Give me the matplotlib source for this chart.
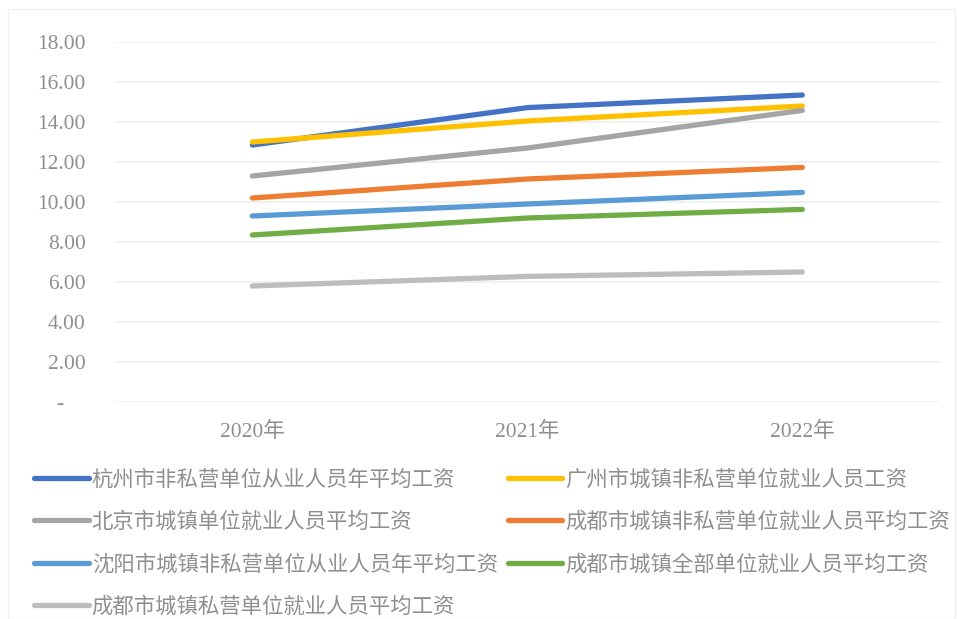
import matplotlib.pyplot as plt
import numpy as np

plt.rcParams['font.family'] = ['Noto Sans CJK SC', 'DejaVu Sans']

years = ['2020年', '2021年', '2022年']
series_names = ['杭州市非私营单位从业人员年平均工资',
                '广州市城镇非私营单位就业人员工资',
                '北京市城镇单位就业人员平均工资',
                '成都市城镇非私营单位就业人员平均工资',
                '沈阳市城镇非私营单位从业人员年平均工资',
                '成都市城镇全部单位就业人员平均工资',
                '成都市城镇私营单位就业人员平均工资']
hangzhou = [12.85, 14.72, 15.35]
guangzhou = [13.0, 14.05, 14.8]
beijing = [11.3, 12.7, 14.58]
chengdu_nonpriv = [10.2, 11.15, 11.73]
shenyang = [9.3, 9.9, 10.48]
chengdu_all = [8.35, 9.2, 9.63]
chengdu_priv = [5.8, 6.28, 6.5]
yticks = [0, 2, 4, 6, 8, 10, 12, 14, 16, 18]
ytick_labels = ['-    ', '2.00', '4.00', '6.00', '8.00', '10.00', '12.00', '14.00', '16.00', '18.00']

values = [hangzhou, guangzhou, beijing, chengdu_nonpriv, shenyang, chengdu_all, chengdu_priv]
colors = ['#4472C4', '#FFC000', '#A5A5A5', '#ED7D31', '#5B9BD5', '#70AD47', '#BDBDBD']
txt = '#8f8f8f'

fig = plt.figure(figsize=(9.57, 6.19), dpi=100)
ax = fig.add_axes([0.120, 0.3506, 0.862, 0.5815])

x = np.arange(len(years))
lines = []
for v, c, name in zip(values, colors, series_names):
    ln, = ax.plot(x, v, color=c, lw=3.8, solid_capstyle='round', label=name)
    lines.append(ln)

ax.set_xlim(-0.5, 2.5)
ax.set_ylim(0, 18)
ax.set_yticks(yticks)
ax.set_yticklabels(ytick_labels, family=['Liberation Serif'], fontsize=15.5, color=txt)
ax.set_xticks(x)
ax.set_xticklabels(years, fontsize=15.5, color=txt,
                   family=['Liberation Serif', 'Noto Sans CJK SC'])
ax.tick_params(axis='y', length=0, pad=21)
ax.tick_params(axis='x', length=0, pad=14)
ax.grid(axis='y', color='#efefef', lw=1.2)
ax.set_axisbelow(True)
for s in ax.spines.values():
    s.set_visible(False)

# matplotlib fills legend columns first, so reorder to read row by row
order = [0, 2, 4, 6, 1, 3, 5]
fig.legend([lines[i] for i in order], [series_names[i] for i in order],
           ncol=2, loc='upper left', bbox_to_anchor=(0.0355, 0.243),
           frameon=False, fontsize=15.4, handlelength=2.55, handletextpad=0.15,
           columnspacing=0.47, labelspacing=0.95, labelcolor=txt,
           borderaxespad=0, borderpad=0)

fig.patches.append(plt.Rectangle((0.008, 0.0), 0.99, 0.985, transform=fig.transFigure,
                                 fill=False, edgecolor='#f0f0f0', lw=1))

plt.savefig('out.png', dpi=100)
